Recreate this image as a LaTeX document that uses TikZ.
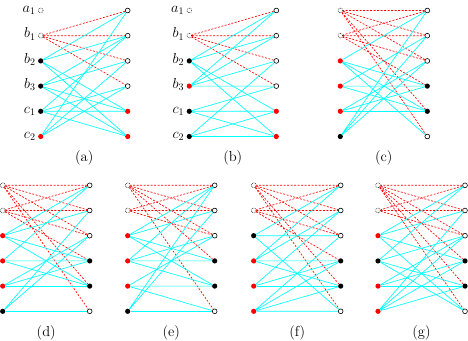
\documentclass[tikz,border=0pt]{standalone}
\usepackage{amsmath}
\usepackage{amssymb}
\usetikzlibrary{calc}

\definecolor{edgecyan}{RGB}{0,255,255}
\definecolor{edgered}{RGB}{255,0,0}

\tikzset{
  vtx/.style={circle, fill=black, minimum size=5.2pt, inner sep=0pt},
  rvtx/.style={circle, fill=edgered, minimum size=5.2pt, inner sep=0pt},
  ovtx/.style={circle, draw=black, fill=white, line width=0.6pt, minimum size=4.8pt, inner sep=0pt},
  dvtx/.style={circle, draw=black, densely dotted, line width=0.6pt, minimum size=4.8pt, inner sep=0pt},
  cedge/.style={edgecyan, line width=0.65pt},
  redge/.style={edgered, line width=0.65pt, dash pattern=on 2pt off 1.5pt},
  lbl/.style={anchor=mid east, font=\fontsize{14.5}{17}\selectfont},
  captxt/.style={font=\fontsize{14.5}{17}\selectfont}
}

\begin{document}
\begin{tikzpicture}[x=1pt,y=-1pt,inner sep=0pt]
\def\u{25.2}
\def\w{87}
\useasboundingbox (0,0) rectangle (468,340);

% (a)
\begin{scope}[shift={(40.7,10.5)}]
\node[dvtx] (al1) at (0, 0) {};
\node[dvtx] (al2) at (0, 1*\u) {};
\node[vtx] (al3) at (0, 2*\u) {};
\node[vtx] (al4) at (0, 3*\u) {};
\node[vtx] (al5) at (0, 4*\u) {};
\node[rvtx] (al6) at (0, 5*\u) {};
\node[ovtx] (ar1) at (\w, 0) {};
\node[ovtx] (ar2) at (\w, 1*\u) {};
\node[ovtx] (ar3) at (\w, 2*\u) {};
\node[ovtx] (ar4) at (\w, 3*\u) {};
\node[rvtx] (ar5) at (\w, 4*\u) {};
\node[rvtx] (ar6) at (\w, 5*\u) {};
\end{scope}
\node[lbl] at ($(al1) + (-5, 0)$) {$a_1$};
\node[lbl] at ($(al2) + (-5, 0)$) {$b_1$};
\node[lbl] at ($(al3) + (-5, 0)$) {$b_2$};
\node[lbl] at ($(al4) + (-5, 0)$) {$b_3$};
\node[lbl] at ($(al5) + (-5, 0)$) {$c_1$};
\node[lbl] at ($(al6) + (-5, 0)$) {$c_2$};
\node[captxt] (capa) at ($(al6)!0.5!(ar6) + (0, 21.5)$) {(a)};

\draw[redge] (ar1) -- (al2) -- (ar2);
\draw[redge] (ar3) -- (al2) -- (ar4);
\draw[cedge] (ar1) -- (al3) -- (ar2);
\draw[cedge] (ar5) -- (al3) -- (ar6);
\draw[cedge] (ar2) -- (al4) -- (ar3);
\draw[cedge] (ar5) -- (al4) -- (ar6);
\draw[cedge] (ar2) -- (al5) -- (ar4);
\draw[cedge] (ar5) -- (al5) -- (ar6);
\draw[cedge] (ar1) -- (al6) -- (ar3);
\draw[cedge] (al6) -- (ar4);

% (b)
\begin{scope}[shift={(189.3,10.5)}]
\node[dvtx] (bl1) at (0, 0) {};
\node[dvtx] (bl2) at (0, 1*\u) {};
\node[vtx] (bl3) at (0, 2*\u) {};
\node[rvtx] (bl4) at (0, 3*\u) {};
\node[vtx] (bl5) at (0, 4*\u) {};
\node[vtx] (bl6) at (0, 5*\u) {};
\node[ovtx] (br1) at (\w, 0) {};
\node[ovtx] (br2) at (\w, 1*\u) {};
\node[ovtx] (br3) at (\w, 2*\u) {};
\node[ovtx] (br4) at (\w, 3*\u) {};
\node[rvtx] (br5) at (\w, 4*\u) {};
\node[rvtx] (br6) at (\w, 5*\u) {};
\end{scope}
\node[lbl] at ($(bl1) + (-5, 0)$) {$a_1$};
\node[lbl] at ($(bl2) + (-5, 0)$) {$b_1$};
\node[lbl] at ($(bl3) + (-5, 0)$) {$b_2$};
\node[lbl] at ($(bl4) + (-5, 0)$) {$b_3$};
\node[lbl] at ($(bl5) + (-5, 0)$) {$c_1$};
\node[lbl] at ($(bl6) + (-5, 0)$) {$c_2$};
\node[captxt] (capb) at ($(bl6)!0.5!(br6) + (0, 21.5)$) {(b)};

\draw[redge] (br1) -- (bl2) -- (br2);
\draw[redge] (br3) -- (bl2) -- (br4);
\draw[cedge] (br1) -- (bl3) -- (br2);
\draw[cedge] (br5) -- (bl3) -- (br6);
\draw[cedge] (br1) -- (bl4) -- (br2);
\draw[cedge] (br3) -- (bl4) -- (br4);
\draw[cedge] (br4) -- (bl5) -- (br5);
\draw[cedge] (bl5) -- (br6);
\draw[cedge] (br3) -- (bl6) -- (br5);
\draw[cedge] (bl6) -- (br6);

% (c)
\begin{scope}[shift={(340.3,10.5)}]
\node[dvtx] (cl1) at (0, 0) {};
\node[dvtx] (cl2) at (0, 1*\u) {};
\node[rvtx] (cl3) at (0, 2*\u) {};
\node[rvtx] (cl4) at (0, 3*\u) {};
\node[rvtx] (cl5) at (0, 4*\u) {};
\node[vtx] (cl6) at (0, 5*\u) {};
\node[ovtx] (cr1) at (\w, 0) {};
\node[ovtx] (cr2) at (\w, 1*\u) {};
\node[ovtx] (cr3) at (\w, 2*\u) {};
\node[vtx] (cr4) at (\w, 3*\u) {};
\node[vtx] (cr5) at (\w, 4*\u) {};
\node[ovtx] (cr6) at (\w, 5*\u) {};
\end{scope}
\node[captxt] (capc) at ($(cl6)!0.5!(cr6) + (0, 21.5)$) {(c)};

\draw[redge] (cr1) -- (cl1) -- (cr2);
\draw[redge] (cr3) -- (cl1) -- (cr5);
\draw[redge] (cl1) -- (cr6);
\draw[redge] (cr1) -- (cl2) -- (cr2);
\draw[redge] (cr3) -- (cl2) -- (cr4);
\draw[cedge] (cr1) -- (cl3) -- (cr4);
\draw[cedge] (cr5) -- (cl3) -- (cr6);
\draw[cedge] (cr2) -- (cl4) -- (cr4);
\draw[cedge] (cl4) -- (cr5);
\draw[cedge] (cr3) -- (cl5) -- (cr4);
\draw[cedge] (cl5) -- (cr5);
\draw[cedge] (cr1) -- (cl6) -- (cr2);
\draw[cedge] (cl6) -- (cr3);

% (d)
\begin{scope}[shift={(2.7,185.3)}]
\node[dvtx] (dl1) at (0, 0) {};
\node[dvtx] (dl2) at (0, 1*\u) {};
\node[rvtx] (dl3) at (0, 2*\u) {};
\node[rvtx] (dl4) at (0, 3*\u) {};
\node[rvtx] (dl5) at (0, 4*\u) {};
\node[vtx] (dl6) at (0, 5*\u) {};
\node[ovtx] (dr1) at (\w, 0) {};
\node[ovtx] (dr2) at (\w, 1*\u) {};
\node[ovtx] (dr3) at (\w, 2*\u) {};
\node[vtx] (dr4) at (\w, 3*\u) {};
\node[vtx] (dr5) at (\w, 4*\u) {};
\node[ovtx] (dr6) at (\w, 5*\u) {};
\end{scope}
\node[captxt] (capd) at ($(dl6)!0.5!(dr6) + (0, 21.5)$) {(d)};

\draw[redge] (dr1) -- (dl1) -- (dr2);
\draw[redge] (dr3) -- (dl1) -- (dr5);
\draw[redge] (dl1) -- (dr6);
\draw[redge] (dr1) -- (dl2) -- (dr2);
\draw[redge] (dr3) -- (dl2) -- (dr4);
\draw[cedge] (dr1) -- (dl3) -- (dr2);
\draw[cedge] (dr4) -- (dl3) -- (dr5);
\draw[cedge] (dr1) -- (dl4) -- (dr4);
\draw[cedge] (dl4) -- (dr5);
\draw[cedge] (dr3) -- (dl5) -- (dr4);
\draw[cedge] (dl5) -- (dr5);
\draw[cedge] (dr2) -- (dl6) -- (dr3);
\draw[cedge] (dl6) -- (dr6);

% (e)
\begin{scope}[shift={(127.7,185.3)}]
\node[dvtx] (el1) at (0, 0) {};
\node[dvtx] (el2) at (0, 1*\u) {};
\node[rvtx] (el3) at (0, 2*\u) {};
\node[rvtx] (el4) at (0, 3*\u) {};
\node[rvtx] (el5) at (0, 4*\u) {};
\node[vtx] (el6) at (0, 5*\u) {};
\node[ovtx] (er1) at (\w, 0) {};
\node[ovtx] (er2) at (\w, 1*\u) {};
\node[ovtx] (er3) at (\w, 2*\u) {};
\node[vtx] (er4) at (\w, 3*\u) {};
\node[vtx] (er5) at (\w, 4*\u) {};
\node[ovtx] (er6) at (\w, 5*\u) {};
\end{scope}
\node[captxt] (cape) at ($(el6)!0.5!(er6) + (0, 21.5)$) {(e)};

\draw[redge] (er1) -- (el1) -- (er2);
\draw[redge] (er3) -- (el1) -- (er4);
\draw[redge] (el1) -- (er6);
\draw[redge] (er1) -- (el2) -- (er2);
\draw[redge] (el2) -- (er3);
\draw[cedge] (er1) -- (el3) -- (er2);
\draw[cedge] (er4) -- (el3) -- (er5);
\draw[cedge] (er1) -- (el4) -- (er3);
\draw[cedge] (er4) -- (el4) -- (er5);
\draw[cedge] (er3) -- (el5) -- (er5);
\draw[cedge] (el5) -- (er6);
\draw[cedge] (er1) -- (el6) -- (er2);
\draw[cedge] (el6) -- (er6);

% (f)
\begin{scope}[shift={(253.7,185.3)}]
\node[dvtx] (fl1) at (0, 0) {};
\node[dvtx] (fl2) at (0, 1*\u) {};
\node[vtx] (fl3) at (0, 2*\u) {};
\node[rvtx] (fl4) at (0, 3*\u) {};
\node[rvtx] (fl5) at (0, 4*\u) {};
\node[rvtx] (fl6) at (0, 5*\u) {};
\node[ovtx] (fr1) at (\w, 0) {};
\node[ovtx] (fr2) at (\w, 1*\u) {};
\node[ovtx] (fr3) at (\w, 2*\u) {};
\node[vtx] (fr4) at (\w, 3*\u) {};
\node[vtx] (fr5) at (\w, 4*\u) {};
\node[ovtx] (fr6) at (\w, 5*\u) {};
\end{scope}
\node[captxt] (capf) at ($(fl6)!0.5!(fr6) + (0, 21.5)$) {(f)};

\draw[redge] (fr1) -- (fl1) -- (fr2);
\draw[redge] (fr3) -- (fl1) -- (fr5);
\draw[redge] (fl1) -- (fr6);
\draw[redge] (fr1) -- (fl2) -- (fr2);
\draw[redge] (fr3) -- (fl2) -- (fr4);
\draw[cedge] (fr1) -- (fl3) -- (fr3);
\draw[cedge] (fl3) -- (fr6);
\draw[cedge] (fr1) -- (fl4) -- (fr2);
\draw[cedge] (fr4) -- (fl4) -- (fr5);
\draw[cedge] (fr2) -- (fl5) -- (fr4);
\draw[cedge] (fl5) -- (fr5);
\draw[cedge] (fr3) -- (fl6) -- (fr4);
\draw[cedge] (fr5) -- (fl6) -- (fr6);

% (g)
\begin{scope}[shift={(378,185.3)}]
\node[dvtx] (gl1) at (0, 0) {};
\node[dvtx] (gl2) at (0, 1*\u) {};
\node[rvtx] (gl3) at (0, 2*\u) {};
\node[vtx] (gl4) at (0, 3*\u) {};
\node[rvtx] (gl5) at (0, 4*\u) {};
\node[rvtx] (gl6) at (0, 5*\u) {};
\node[ovtx] (gr1) at (\w, 0) {};
\node[ovtx] (gr2) at (\w, 1*\u) {};
\node[ovtx] (gr3) at (\w, 2*\u) {};
\node[vtx] (gr4) at (\w, 3*\u) {};
\node[vtx] (gr5) at (\w, 4*\u) {};
\node[ovtx] (gr6) at (\w, 5*\u) {};
\end{scope}
\node[captxt] (capg) at ($(gl6)!0.5!(gr6) + (0, 21.5)$) {(g)};

\draw[redge] (gr1) -- (gl1) -- (gr2);
\draw[redge] (gr3) -- (gl1) -- (gr4);
\draw[redge] (gr5) -- (gl1) -- (gr6);
\draw[redge] (gr1) -- (gl2) -- (gr2);
\draw[redge] (gl2) -- (gr3);
\draw[cedge] (gr1) -- (gl3) -- (gr2);
\draw[cedge] (gr4) -- (gl3) -- (gr6);
\draw[cedge] (gr1) -- (gl4) -- (gr3);
\draw[cedge] (gr5) -- (gl4) -- (gr6);
\draw[cedge] (gr3) -- (gl5) -- (gr4);
\draw[cedge] (gl5) -- (gr5);
\draw[cedge] (gr2) -- (gl6) -- (gr3);
\draw[cedge] (gr4) -- (gl6) -- (gr5);
\end{tikzpicture}
\end{document}
